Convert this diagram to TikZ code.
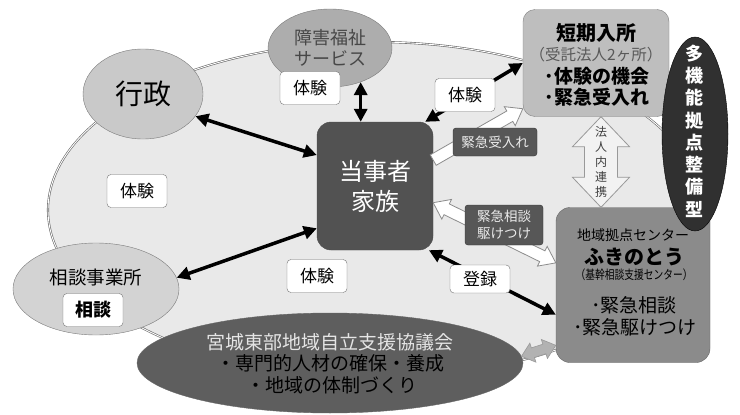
\documentclass[tikz,border=0pt]{standalone}
\usepackage{fontspec}
\setmainfont{Noto Sans CJK JP}
\usetikzlibrary{calc,arrows.meta,shapes.geometric}
\definecolor{bgfill}{HTML}{E9E9E9}
\definecolor{edgec}{HTML}{7A7A7A}
\definecolor{gyofill}{HTML}{C9C9C9}
\definecolor{svcfill}{HTML}{ADADAD}
\definecolor{sodanfill}{HTML}{D3D3D3}
\definecolor{famfill}{HTML}{525252}
\definecolor{tankifill}{HTML}{BEBEBE}
\definecolor{multifill}{HTML}{303030}
\definecolor{cntfill}{HTML}{8B8B8B}
\definecolor{councilfill}{HTML}{5E5E5E}
\definecolor{tagfill}{HTML}{575757}
\newcommand\oneblock[6]{%
  \coordinate (obC) at ($(#3)!#6!(#2)$);
  \draw[#1] ($(#2)!#4!90:(#3)$) -- ($(obC)!#4!90:(#3)$) -- ($(obC)!#5!90:(#3)$) -- (#3)
    -- ($(obC)!#5!-90:(#3)$) -- ($(obC)!#4!-90:(#3)$) -- ($(#2)!#4!-90:(#3)$) -- cycle;}
\newcommand\twoblock[6]{%
  \coordinate (tbA) at ($(#2)!#6!(#3)$);
  \coordinate (tbB) at ($(#3)!#6!(#2)$);
  \draw[#1] (#2) -- ($(tbA)!#5!90:(#3)$) -- ($(tbA)!#4!90:(#3)$) -- ($(tbB)!#4!-90:(#2)$)
    -- ($(tbB)!#5!-90:(#2)$) -- (#3) -- ($(tbB)!#5!90:(#2)$) -- ($(tbB)!#4!90:(#2)$)
    -- ($(tbA)!#4!-90:(#3)$) -- ($(tbA)!#5!-90:(#3)$) -- cycle;}
\begin{document}
\begin{tikzpicture}[x=1pt,y=-1pt,
  blkarrow/.style={line width=3.5pt,{Triangle[length=13pt,width=13pt]}-{Triangle[length=13pt,width=13pt]}},
  wbox/.style={draw=black!55,fill=white,rounded corners=4pt,minimum width=60pt,minimum height=33pt,inner sep=0pt,font=\fontsize{17}{17}\selectfont},
  tag/.style={draw=black!80,fill=tagfill,rounded corners=3pt,text=white!92!black,inner sep=0pt,align=center,font=\fontsize{13.5}{17}\selectfont},
  wblock/.style={draw=black!45,fill=white,line width=0.8pt,line join=miter},
  hblock/.style={draw=black!40,fill=white!95!black,line width=0.8pt},
  gblock/.style={draw=black!40,fill=black!30,line width=0.6pt},
  txt/.style={inner sep=0pt}]
\useasboundingbox (0,0) rectangle (740,415);
\fill[white] (0,0) rectangle (740,415);
% field
\node[ellipse,draw=black!60,double=white,double distance=0.9pt,line width=0.6pt,fill=bgfill,
      minimum width=654pt,minimum height=336pt,inner sep=0pt] (field) at (375,210) {};
% main nodes
\node[ellipse,draw=edgec,fill=gyofill,minimum width=120pt,minimum height=90pt,inner sep=0pt,
      font=\fontsize{28}{28}\selectfont] (gyosei) at (143,94) {行政};
\node[ellipse,draw=edgec,fill=svcfill,minimum width=124pt,minimum height=78pt,inner sep=0pt,
      align=center,text=black!72,font=\fontsize{18}{21}\selectfont] (svc) at (330,48) {障害福祉\\サービス};
\node[ellipse,draw=edgec,fill=sodanfill,minimum width=166pt,minimum height=92pt,inner sep=0pt] (sodan) at (96,289) {};
\node[txt,font=\fontsize{18.5}{18.5}\selectfont] (sodant) at (96,277) {相談事業所};
\node[draw=black!70,fill=famfill,rounded corners=14pt,minimum width=116pt,minimum height=128pt,
      inner sep=0pt,text=white,align=center,font=\fontsize{24}{30}\selectfont] (fam) at (375,186) {当事者\\家族};
\node[draw=black!50,fill=tankifill,rounded corners=12pt,minimum width=146pt,minimum height=107pt,inner sep=0pt] (tanki) at (596,63) {};
\node[txt,font=\fontsize{20}{20}\selectfont\bfseries] (tanki1) at (596,33) {短期入所};
\node[txt,text=black!65,font=\fontsize{15.5}{15.5}\selectfont] (tanki2) at (596,55) {（受託法人2ヶ所）};
\node[txt,font=\fontsize{19}{19}\selectfont\bfseries] (tanki3) at (597,76) {･体験の機会};
\node[txt,font=\fontsize{19}{19}\selectfont\bfseries] (tanki4) at (597,97) {･緊急受入れ};
\node[draw=black!60,fill=cntfill,rounded corners=14pt,minimum width=154pt,minimum height=155pt,inner sep=0pt] (cnt) at (633,285) {};
\node[txt,font=\fontsize{14}{14}\selectfont] (cnt1) at (633,235) {地域拠点センター};
\node[txt,font=\fontsize{20}{20}\selectfont\bfseries] (cnt2) at (634,257) {ふきのとう};
\node[txt,font=\fontsize{12.5}{12.5}\selectfont] (cnt3) at (634,275) {\scalebox{0.78}[1]{（基幹相談支援センター）}};
\node[txt,font=\fontsize{19}{19}\selectfont] (cnt4) at (634,305) {･緊急相談};
\node[txt,font=\fontsize{19}{19}\selectfont] (cnt5) at (635,327) {･緊急駆けつけ};
\node[ellipse,draw=black,fill=multifill,minimum width=66pt,minimum height=194pt,inner sep=0pt] (multi) at (695,134) {};
\node[txt,text=white,align=center,font=\fontsize{18}{22.3}\selectfont\bfseries] (multit) at (694,131)
      {多\\機\\能\\拠\\点\\整\\備\\型};
\node[ellipse,draw=black!60,fill=councilfill,minimum width=386pt,minimum height=100pt,inner sep=0pt] (council) at (330,363) {};
\node[txt,text=white!90!black,font=\fontsize{19}{19}\selectfont] (council1) at (330,342) {宮城東部地域自立支援協議会};
\node[txt,font=\fontsize{19}{19}\selectfont] (council2) at (330,363) {・専門的人材の確保・養成};
\node[txt,font=\fontsize{19}{19}\selectfont] (council3) at (332,385) {・地域の体制づくり};
% black arrows
\draw[blkarrow] (gyosei.-23) -- (fam.152);
\draw[blkarrow] (svc.-48) -- (svc.-48 |- fam.north);
\draw[blkarrow] (tanki.west) -- (fam.52);
\draw[blkarrow] (sodan.8) -- (fam.216);
\draw[blkarrow] (fam.-50) -- (cnt.201);
% block arrows
\oneblock{wblock}{fam.24}{tanki.212}{6pt}{11pt}{15pt}
\twoblock{wblock}{fam.-16}{cnt.164}{6pt}{11pt}{15pt}
\coordinate (hA) at ($(tanki.south)+(5,0)$);
\coordinate (hB) at (hA |- cnt.north);
\twoblock{hblock}{hA}{hB}{16.5pt}{28.5pt}{30pt}
\node[txt,align=center,text=black!75,font=\fontsize{12}{15}\selectfont] (renkei) at ($(hA)!0.5!(hB)$) {法\\人\\内\\連\\携};
\twoblock{gblock}{council.2}{cnt.218}{5pt}{10pt}{12pt}
% labels
\node[wbox] (exp1) at (310,88) {体験};
\node[wbox] (exp2) at (137,191) {体験};
\node[wbox] (exp3) at (465,95) {体験};
\node[wbox] (exp4) at (317,276) {体験};
\node[wbox,minimum height=28pt] (touroku) at (480,279) {登録};
\node[wbox,font=\fontsize{18}{18}\selectfont\bfseries] (soudan) at (93,310) {相談};
\node[tag,minimum width=84pt,minimum height=28pt] (tag1) at (495,142) {緊急受入れ};
\node[tag,minimum width=78pt,minimum height=40pt] (tag2) at (504,225) {緊急相談\\駆けつけ};
\end{tikzpicture}
\end{document}
